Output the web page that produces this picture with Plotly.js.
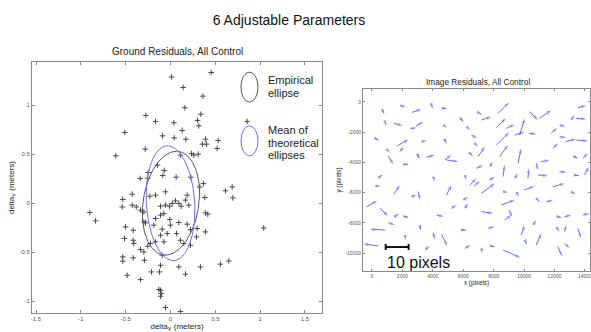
<!DOCTYPE html>
<html>
<head>
<meta charset="utf-8">
<script src="https://cdn.plot.ly/plotly-3.0.1.min.js"></script>
<style>
  html, body { margin: 0; padding: 0; background: #ffffff; }
  #chart { width: 591px; height: 332px; }
</style>
</head>
<body>
<div id="chart"></div>
<script>
// ---------------- Ground residuals (meters) ----------------
const deltaX = [
  0.454, 0.011, 0.141, 0.361, 0.160, -0.275, 0.338, -0.167, 0.037, 0.301, 0.316, 0.855, -0.509,
  0.130, -0.089, 0.041, 0.171, 0.390, 0.532, 0.357, 0.401, 0.52, -0.282, -0.61, 0.111, 0.234,
  0.26, 0.309, -0.145, -0.249, -0.07, -0.086, -0.338, -0.256, 0.063, 0.227, 0.368, 0.327, 0.688,
  -0.532, -0.539, -0.427, -0.427, -0.382, -0.334, -0.297, -0.23, -0.167, -0.111, -0.056, -0.056,
  -0.011, 0.019, 0.056, 0.093, 0.119, 0.167, 0.204, 0.186, 0.383, -0.836, -0.502, -0.416, -0.513,
  -0.416, -0.409, -0.297, -0.279, -0.167, -0.111, -0.074, -0.007, -0.186, -0.093, 0, 0.093, 0.186,
  0.223, 0.297, 0.39, 0.416, 0.39, 0.29, 0.067, -0.037, -0.111, -0.074, -0.167, -0.223, 0.111,
  0.149, -0.253, -0.334, -0.297, 0.223, -0.093, -0.532, -0.532, -0.416, -0.29, -0.111, 0.093,
  0.334, 0.557, 0.65, -0.483, -0.334, -0.212, -0.123, 0.167, -0.13, -0.111, -0.104, -0.111,
  -0.056, 0.111, 0.613, 0.695, -0.9, 1.04
];
const deltaY = [
  1.333, 1.287, 1.18, 1.092, 0.973, 0.895, 0.908, 0.834, 0.82, 0.844, 0.789, 0.834, 0.721,
  0.742, 0.687, 0.666, 0.653, 0.653, 0.64, 0.602, 0.602, 0.558, 0.551, 0.483, 0.49, 0.507,
  0.49, 0.5, 0.388, 0.313, 0.334, 0.283, 0.252, 0.255, 0.265, 0.265, 0.2, 0.166, 0.166,
  0.038, -0.038, 0.092, -0.02, -0.038, -0.071, -0.089, 0.071, 0.082, -0.031, -0.02, 0.116,
  -0.031, -0.003, 0.024, -0.003, -0.031, 0.031, -0.02, 0.082, 0.058, -0.18, -0.241, -0.276, -0.36,
  -0.378, -0.411, -0.19, -0.201, -0.156, -0.122, -0.105, -0.166, -0.224, -0.265, -0.224, -0.197, -0.214,
  -0.269, -0.258, -0.099, -0.112, -0.293, -0.344, -0.31, -0.31, -0.327, -0.395, -0.395, -0.411, -0.378,
  -0.411, -0.439, -0.473, -0.497, -0.429, -0.531, -0.548, -0.592, -0.558, -0.582, -0.633, -0.65,
  -0.65, -0.622, -0.589, -0.735, -0.779, -0.701, -0.701, -0.724, -0.88, -0.888, -0.922, -0.949,
  -1.064, -1.105, 0.126, 0.054, -0.095, -0.252
];

// Ellipses: centre, semi-axes, tilt of major axis (deg, clockwise from vertical)
const ellipseNames = ['Empirical ellipse', 'Mean of theoretical ellipses'];
const ellipseCx = [0.005, 0.0];
const ellipseCy = [0.0, 0.0];
const ellipseA = [0.535, 0.587];
const ellipseB = [0.31, 0.27];
const ellipseTilt = [10, -4];
const ellipseColors = ['#555555', '#6a6aff'];

// ---------------- Image residuals (pixels) ----------------
const imgX = [700,1836,2623,3913,896,1443,2536,2886,219,1662,1836,3257,962,1071,2164,2995,3585,525,4022,197,1443,
  -350,525,1509,2164,2602,3039,1071,853,416,2164,3148,4022,4569,3476,4241,
  4678,4678,4787,5814,7082,7192,8285,6208,8175,8831,6536,6754,8175,9378,9705,10361,11017,10317,11782,12329,
  13094,13422,13531,12329,12722,13422,6426,6973,8394,4896,4787,9596,10798,11126,11891,13312,13859,6864,7738,
  6099,6426,6711,7192,7738,8612,9378,10252,10908,12329,13312,13968,4896,5989,6099,5224,8612,9487,10033,11891,
  13094,10908,11454,8503,9006,7192,8722,10580,9815,12219,12657,13859,12110,12657,13531,5880,7629,10798,12219,
  12657,8612,7192,7847,6099,10099];
const imgY = [-575,-243,-685,-199,-1413,-1413,-1766,-1590,-2406,-2914,-3289,-2627,-3135,-3576,-4128,-3466,-3664,-4944,-4944,-5562,-6092,
  -6930,-7040,-7592,-7592,-6267,-5936,-7989,-8474,-9534,-8805,-8210,-8651,-8761,-9799,-7481,
  -420,-1523,-2517,-1082,-751,-1192,-751,-1634,-1700,-1744,-2186,-2737,-2848,-2186,-2186,-641,-1082,-2075,-2075,-1523,
  -1192,-1082,-376,-2296,-2627,-2517,-3399,-3620,-3620,-3841,-3841,-4061,-4061,-3951,-3068,-3620,-3730,-4393,-4282,
  -4834,-5496,-5562,-6048,-5165,-4944,-5054,-5054,-4834,-4613,-4834,-4834,-6158,-6489,-7041,-7041,-5937,-5982,-5827,-5606,
  -5937,-6489,-6600,-6820,-7151,-7262,-7813,-8144,-8807,-7593,-7593,-7482,-8255,-8586,-8365,-8475,-8365,-9469,-9579,
  -9358,-9800,-9689,-9535,-9689,-9248];
const resU = [0.6,2.6,4.2,0.4,0.3,3.8,2.6,3.2,1.4,4.8,1.7,2.2,1.4,2.2,1.4,0.7,3.6,0.9,0.7,2.5,2.6,
  4.6,3.6,1.4,1.4,2.2,0.7,2.9,-6.5,-6.5,0.4,0.3,0.7,2.5,2.2,3.2,
  1.4,1.7,0.7,1.2,0.7,4.3,4.8,1.7,4.1,3.6,2.5,1.4,5.5,4.3,2.2,3.6,5.1,3.2,2.5,2.6,1.4,4.3,3.6,2.9,4.6,5.1,1.2,2.9,
  3.6,5.1,2.9,1.4,0.7,3.6,2.2,1.4,2.2,2.9,1.4,0.7,2.9,2.5,5.8,2.2,0.7,1.4,0.4,4.3,2.9,1.9,1.9,2.2,2.2,1.4,2.2,2.2,
  1.2,4.3,5.1,1.9,0.7,2.9,5.8,1.4,5.1,2.9,1.4,1.4,1.4,2.9,2.9,1.4,0.7,1.4,1.9,2.9,2.2,1.9,2.2,7.5,0.4,1.4,2.5,0.5];
const resV = [-1.2,-0.4,1.3,-1.2,-0.7,-1.0,0.4,1.9,-1.0,2.9,2.2,0.4,-1.4,-3.6,0,-1.7,1.0,0.7,-2.2,0,3.9,
  2.6,-3.3,1.2,-0.3,0.7,-3.6,-1.0,0.3,0.9,-2.2,-1.7,-2.9,-5.1,1.7,-0.7,
  0,-1.2,-1.4,-1.4,-0.4,1.4,4.8,-1.4,4.1,1.7,-1.4,-1.4,5.5,1.4,7.2,-3.6,3.6,-0.4,2.5,-0.7,2.2,-0.4,0.9,-0.4,1.2,-0.4,
  -1.0,4.3,5.1,-0.7,2.2,6.5,-2.9,0.7,2.2,-0.7,2.2,1.4,2.2,-2.2,2.9,2.2,4.3,1.4,5.1,2.2,4.3,-0.3,-0.3,-0.3,3.6,4.3,1.4,
  2.2,1.4,-0.3,-1.9,1.7,1.4,-1.2,-0.7,0.7,2.2,-2.9,-0.7,2.2,2.2,4.3,-0.4,0.7,0.7,-2.2,2.9,-4.3,0,0.7,5.1,-4.3,-2.2,
  -3.3,-2.2,-0.3,1.4,-1.0];
const quiverScale = 151;      // plot units per residual pixel
const scaleBarPixels = 10;

// Tick labels
const leftXTicks = [-1.5, -1, -0.5, 0, 0.5, 1, 1.5];
const leftYTicks = [-1, -0.5, 0, 0.5, 1];
const rightXTicks = [0, 2000, 4000, 6000, 8000, 10000, 12000, 14000];
const rightYTicks = [0, -2000, -4000, -6000, -8000, -10000];

// ---------------- build traces ----------------
const FONT = 'Liberation Sans, Arial, Helvetica, sans-serif';
const traces = [];

traces.push({
  x: deltaX, y: deltaY, xaxis: 'x', yaxis: 'y', type: 'scatter', mode: 'markers',
  marker: { symbol: 'cross-thin', size: 4, line: { width: 0.9, color: '#3a3a3a' }, color: '#3a3a3a' },
  hoverinfo: 'skip', showlegend: false
});

for (let k = 0; k < ellipseNames.length; k++) {
  const ex = [], ey = [];
  const phi = ellipseTilt[k] * Math.PI / 180;
  for (let i = 0; i <= 200; i++) {
    const t = 2 * Math.PI * i / 200;
    const lx = ellipseB[k] * Math.cos(t), ly = ellipseA[k] * Math.sin(t);
    ex.push(ellipseCx[k] + lx * Math.cos(phi) + ly * Math.sin(phi));
    ey.push(ellipseCy[k] - lx * Math.sin(phi) + ly * Math.cos(phi));
  }
  traces.push({
    x: ex, y: ey, xaxis: 'x', yaxis: 'y', type: 'scatter', mode: 'lines',
    line: { color: ellipseColors[k], width: 1 }, name: ellipseNames[k],
    hoverinfo: 'skip', showlegend: false
  });
}

// quiver
const qx = [], qy = [], qs = [];
const n = Math.min(imgX.length, imgY.length, resU.length, resV.length);
for (let i = 0; i < n; i++) {
  qx.push(imgX[i], imgX[i] + resU[i] * quiverScale, null);
  qy.push(imgY[i], imgY[i] + resV[i] * quiverScale, null);
  qs.push(0, 5, 0);
}
traces.push({
  x: qx, y: qy, xaxis: 'x2', yaxis: 'y2', type: 'scatter', mode: 'lines+markers',
  line: { color: '#6868ff', width: 1 },
  marker: { symbol: 'arrow', angleref: 'previous', size: qs, color: '#6868ff', line: { width: 0 } },
  connectgaps: false, hoverinfo: 'skip', showlegend: false
});

// scale bar
const sbX0 = 900, sbY = -9603, sbLen = scaleBarPixels * quiverScale, cap = 200;
traces.push({
  x: [sbX0, sbX0 + sbLen, null, sbX0, sbX0, null, sbX0 + sbLen, sbX0 + sbLen],
  y: [sbY, sbY, null, sbY - cap, sbY + cap, null, sbY - cap, sbY + cap],
  xaxis: 'x2', yaxis: 'y2', type: 'scatter', mode: 'lines',
  line: { color: '#111111', width: 2 }, hoverinfo: 'skip', showlegend: false
});

const axisCommon = {
  showgrid: false, zeroline: false, showline: true, linecolor: '#8a8a8a', linewidth: 1,
  mirror: 'ticks', ticks: 'inside', ticklen: 3, tickcolor: '#8a8a8a', tickwidth: 1,
  automargin: false, fixedrange: true, ticklabeloverflow: 'allow'
};

const layout = {
  width: 591, height: 332,
  margin: { l: 0, r: 0, t: 0, b: 0, pad: 0 },
  paper_bgcolor: '#ffffff', plot_bgcolor: '#ffffff',
  font: { family: FONT, color: '#222222' },
  showlegend: false,
  title: {
    text: '6 Adjustable Parameters', x: 0.489, xanchor: 'center', y: 0.94, yanchor: 'middle',
    font: { family: FONT, size: 14, color: '#111111' }
  },
  xaxis: Object.assign({}, axisCommon, {
    domain: [32 / 591, 322 / 591], range: [-1.545, 1.69], anchor: 'y',
    tickvals: leftXTicks, ticktext: leftXTicks.map(String),
    tickfont: { size: 6, color: '#555555', family: FONT },
    title: { text: 'delta<sub>X</sub> (meters)', font: { size: 8, color: '#222222', family: FONT }, standoff: 2 }
  }),
  yaxis: Object.assign({}, axisCommon, {
    domain: [(332 - 313) / 332, (332 - 62) / 332], range: [-1.12, 1.44], anchor: 'x',
    tickvals: leftYTicks, ticktext: leftYTicks.map(String),
    tickfont: { size: 6, color: '#555555', family: FONT },
    title: { text: 'delta<sub>Y</sub> (meters)', font: { size: 8, color: '#222222', family: FONT }, standoff: 3 }
  }),
  xaxis2: Object.assign({}, axisCommon, {
    domain: [363 / 591, 590 / 591], range: [-590, 14330], anchor: 'y2',
    tickvals: rightXTicks, ticktext: rightXTicks.map(String), ticklen: 2,
    tickfont: { size: 5, color: '#555555', family: FONT },
    title: { text: 'x (pixels)', font: { size: 6.3, color: '#222222', family: FONT }, standoff: 2 }
  }),
  yaxis2: Object.assign({}, axisCommon, {
    domain: [(332 - 271) / 332, (332 - 89) / 332], range: [-11190, 860], anchor: 'x2',
    tickvals: rightYTicks, ticktext: rightYTicks.map(String), ticklen: 2,
    tickfont: { size: 5, color: '#555555', family: FONT },
    title: { text: 'y (pixels)', font: { size: 6.3, color: '#222222', family: FONT }, standoff: 3 }
  }),
  shapes: [
    { type: 'circle', xref: 'x', yref: 'y', x0: 0.881 - 0.095, x1: 0.881 + 0.095, y0: 1.184 - 0.153, y1: 1.184 + 0.153,
      line: { color: ellipseColors[0], width: 1 } },
    { type: 'circle', xref: 'x', yref: 'y', x0: 0.881 - 0.095, x1: 0.881 + 0.095, y0: 0.636 - 0.153, y1: 0.636 + 0.153,
      line: { color: ellipseColors[1], width: 1 } }
  ],
  annotations: [
    { text: 'Ground Residuals, All Control', xref: 'paper', yref: 'paper', x: 177 / 591, y: (332 - 52) / 332,
      xanchor: 'center', yanchor: 'middle', showarrow: false, font: { size: 10, color: '#222222', family: FONT } },
    { text: 'Image Residuals, All Control', xref: 'paper', yref: 'paper', x: 478 / 591, y: (332 - 81.5) / 332,
      xanchor: 'center', yanchor: 'middle', showarrow: false, font: { size: 8.3, color: '#222222', family: FONT } },
    { text: 'Empirical', xref: 'paper', yref: 'paper', x: 266 / 591, y: (332 - 79.5) / 332,
      xanchor: 'left', yanchor: 'middle', showarrow: false, font: { size: 11, color: '#222222', family: FONT } },
    { text: 'ellipse', xref: 'paper', yref: 'paper', x: 266 / 591, y: (332 - 92.5) / 332,
      xanchor: 'left', yanchor: 'middle', showarrow: false, font: { size: 11, color: '#222222', family: FONT } },
    { text: 'Mean of', xref: 'paper', yref: 'paper', x: 266 / 591, y: (332 - 130) / 332,
      xanchor: 'left', yanchor: 'middle', showarrow: false, font: { size: 11, color: '#222222', family: FONT } },
    { text: 'theoretical', xref: 'paper', yref: 'paper', x: 266 / 591, y: (332 - 142.5) / 332,
      xanchor: 'left', yanchor: 'middle', showarrow: false, font: { size: 11, color: '#222222', family: FONT } },
    { text: 'ellipses', xref: 'paper', yref: 'paper', x: 266 / 591, y: (332 - 155) / 332,
      xanchor: 'left', yanchor: 'middle', showarrow: false, font: { size: 11, color: '#222222', family: FONT } },
    { text: scaleBarPixels + ' pixels', xref: 'x2', yref: 'y2', x: sbX0 - 40, y: -10600,
      xanchor: 'left', yanchor: 'middle', showarrow: false, font: { size: 16, color: '#111111', family: FONT } }
  ]
};

Plotly.newPlot('chart', traces, layout, { staticPlot: true, displayModeBar: false });
</script>
</body>
</html>
